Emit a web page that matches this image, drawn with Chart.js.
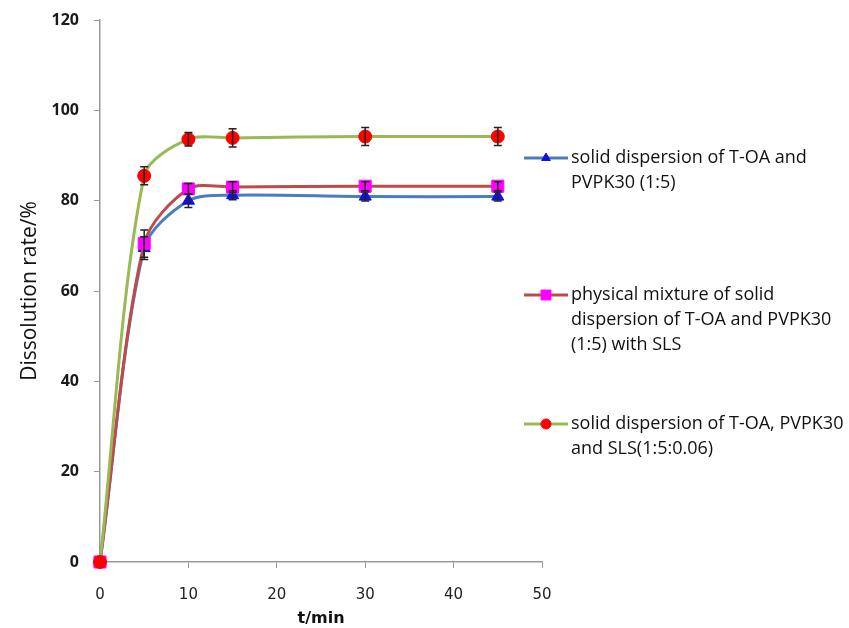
<!DOCTYPE html>
<html>
<head>
<meta charset="utf-8">
<script src="https://cdn.jsdelivr.net/npm/chart.js@4/dist/chart.umd.min.js"></script>
<style>
  html, body { margin: 0; padding: 0; background: #fff; }
  #wrap { width: 849px; height: 628px; }
</style>
</head>
<body>
<div id="wrap"><canvas id="dissolutionChart" width="849" height="628"></canvas></div>
<script>
// Sampling times (min)
const times = [0, 5, 10, 15, 30, 45];

// Dissolution rate (%) for each formulation
const sdValues = [0, 69.5, 80.0, 81.2, 80.9, 80.9];
const pmValues = [0, 70.5, 82.6, 83.0, 83.2, 83.2];
const sdSlsValues = [0, 85.5, 93.6, 93.9, 94.2, 94.2];

// Error bars (+/-)
const sdErrors = [0, 2.5, 1.5, 1.0, 1.0, 1.0];
const pmErrors = [0, 3.0, 1.2, 1.2, 1.0, 1.0];
const sdSlsErrors = [0, 2.0, 1.5, 2.0, 2.0, 2.0];

// Legend text, one entry per series, split in lines like the figure
const legendLines = [
	['solid dispersion of T-OA and', 'PVPK30 (1:5)'],
	['physical mixture of solid', 'dispersion of T-OA and PVPK30', '(1:5) with SLS'],
	['solid dispersion of T-OA, PVPK30', 'and SLS(1:5:0.06)']
];
const legendY = [158, 295, 424];

const xTicks = [0, 10, 20, 30, 40, 50];
const yTicks = [0, 20, 40, 60, 80, 100, 120];

function toPoints(values) {
	return times.map((t, i) => ({ x: t, y: values[i] }));
}

// Draw vertical error bars through the chart scales
const errorBarPlugin = {
	id: 'errorBars',
	afterDatasetsDraw(chart) {
		const ctx = chart.ctx;
		const xs = chart.scales.x;
		const ys = chart.scales.y;
		ctx.save();
		ctx.strokeStyle = '#222';
		ctx.lineWidth = 1.5;
		chart.data.datasets.forEach(ds => {
			(ds.errors || []).forEach((err, i) => {
				if (!err) return;
				const p = ds.data[i];
				const px = xs.getPixelForValue(p.x);
				const top = ys.getPixelForValue(p.y + err);
				const bot = ys.getPixelForValue(p.y - err);
				ctx.beginPath();
				ctx.moveTo(px, top);
				ctx.lineTo(px, bot);
				ctx.moveTo(px - 4, top);
				ctx.lineTo(px + 4, top);
				ctx.moveTo(px - 4, bot);
				ctx.lineTo(px + 4, bot);
				ctx.stroke();
			});
		});
		ctx.restore();
	}
};

// Legend on the right with wrapped text
const sideLegendPlugin = {
	id: 'sideLegend',
	afterDraw(chart) {
		const ctx = chart.ctx;
		ctx.save();
		chart.data.datasets.forEach((ds, i) => {
			const y = legendY[i];
			ctx.strokeStyle = ds.borderColor;
			ctx.lineWidth = 3;
			ctx.beginPath();
			ctx.moveTo(524, y);
			ctx.lineTo(568, y);
			ctx.stroke();
			ctx.fillStyle = ds.pointBackgroundColor;
			ctx.strokeStyle = ds.pointBorderColor;
			ctx.lineWidth = 1;
			Chart.helpers.drawPoint(ctx, {
				pointStyle: ds.pointStyle,
				radius: ds.pointStyle === 'rect' ? 7 : 5,
				rotation: 0,
				borderWidth: 1
			}, 546, y);
			ctx.fillStyle = '#111';
			ctx.font = '18px "Open Sans"';
			ctx.textBaseline = 'middle';
			legendLines[i].forEach((line, j) => {
				ctx.fillText(line, 571, y + j * 25);
			});
		});
		ctx.restore();
	}
};

new Chart(document.getElementById('dissolutionChart'), {
	type: 'line',
	data: {
		datasets: [{
			label: legendLines[0].join(' '),
			data: toPoints(sdValues),
			errors: sdErrors,
			borderColor: '#4a7ebb',
			pointBackgroundColor: '#1010e0',
			pointBorderColor: '#1010e0',
			pointStyle: 'triangle',
			pointRadius: 7,
			order: 3
		}, {
			label: legendLines[1].join(' '),
			data: toPoints(pmValues),
			errors: pmErrors,
			borderColor: '#be4b48',
			pointBackgroundColor: '#ff00ff',
			pointBorderColor: '#ff00ff',
			pointStyle: 'rect',
			pointRadius: 8.5,
			order: 2
		}, {
			label: legendLines[2].join(' '),
			data: toPoints(sdSlsValues),
			errors: sdSlsErrors,
			borderColor: '#98b954',
			pointBackgroundColor: '#ff0000',
			pointBorderColor: '#ff0000',
			pointStyle: 'circle',
			pointRadius: 6.5,
			order: 1
		}]
	},
	options: {
		responsive: false,
		animation: false,
		layout: { padding: { top: 20, right: 307, left: 0, bottom: 0 } },
		elements: {
			line: { borderWidth: 3, tension: 0.3 },
			point: { borderWidth: 1 }
		},
		datasets: { line: { clip: false } },
		plugins: {
			legend: { display: false },
			tooltip: { enabled: false }
		},
		scales: {
			x: {
				type: 'linear',
				min: 0,
				max: 50,
				afterFit(scale) { scale.height = 66; },
				afterBuildTicks(scale) { scale.ticks = xTicks.map(v => ({ value: v })); },
				grid: { drawOnChartArea: false, drawTicks: true, tickLength: 6, color: '#999' },
				border: { color: '#999', width: 1.5 },
				ticks: { color: '#222', font: { family: 'DejaVu Sans', size: 15 }, padding: 18 },
				title: {
					display: true,
					text: 't/min',
					color: '#111',
					font: { family: 'DejaVu Sans', size: 16, weight: 'bold' },
					padding: { top: 0, bottom: 0 }
				}
			},
			y: {
				min: 0,
				max: 120,
				afterFit(scale) {
					scale.width = 100;
					scale.paddingTop = 0;
					scale.paddingBottom = 0;
				},
				afterBuildTicks(scale) { scale.ticks = yTicks.map(v => ({ value: v })); },
				grid: { drawOnChartArea: false, drawTicks: true, tickLength: 6, color: '#999' },
				border: { color: '#999', width: 1.5 },
				ticks: { color: '#1a1a1a', font: { family: 'Open Sans', size: 16, weight: 'bold' }, padding: 15 },
				title: {
					display: true,
					text: 'Dissolution rate/%',
					color: '#111',
					font: { family: 'Open Sans', size: 21 },
					padding: { bottom: 0, top: 17 }
				}
			}
		}
	},
	plugins: [errorBarPlugin, sideLegendPlugin]
});
</script>
</body>
</html>
